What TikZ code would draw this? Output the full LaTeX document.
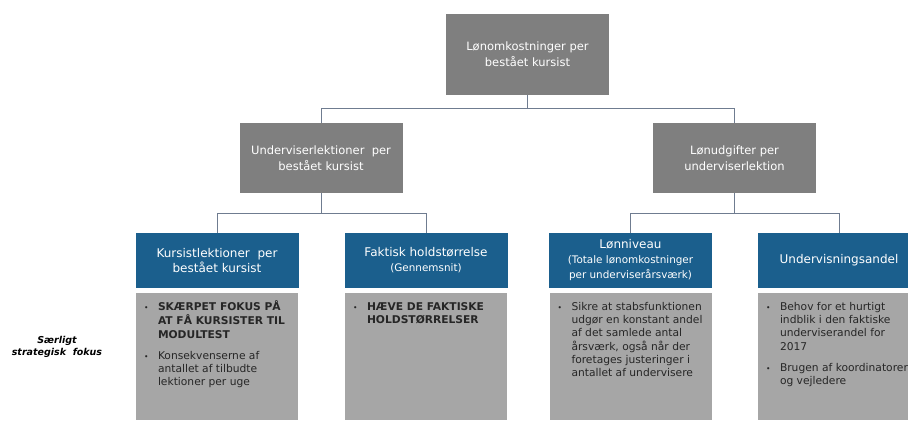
\documentclass[tikz,border=0pt]{standalone}
\usepackage{fontspec}
\setmainfont{DejaVu Sans}
\definecolor{headgray}{HTML}{7F7F7F}
\definecolor{headblue}{HTML}{1B5F8D}
\definecolor{notegray}{HTML}{A6A6A6}
\definecolor{linkgray}{HTML}{6F7C90}
\newcommand{\subsize}{\fontsize{10.4}{14}\selectfont}
\newcommand{\bpoint}[1]{\makebox[16pt][l]{\hspace{2pt}\scalebox{.7}{\textbullet}}\begin{tabular}[t]{@{}l@{}}#1\end{tabular}\par}
\newcommand{\notetext}[1]{\parbox[c][111pt][t]{150pt}{\fontsize{10.7}{13.3}\selectfont\color{black!85} #1}}

\begin{document}
\begin{tikzpicture}[x=1pt,y=-1pt,
    head/.style={fill=headgray,text=white,minimum width=163,align=center,
      font=\fontsize{11.5}{16}\selectfont},
    topic/.style={fill=headblue,text=white,minimum width=163,minimum height=55,
      align=center,font=\fontsize{12}{15}\selectfont},
    note/.style={fill=notegray,minimum width=162,minimum height=127,inner sep=0},
    link/.style={draw=linkgray,line width=0.9pt}]
  \useasboundingbox (0,0) rectangle (908,422);
  \clip (0,0) rectangle (908,422);
  \node[head,minimum height=81] (cost) at (527.5,54.5) {Lønomkostninger per\\bestået kursist};
  \node[head,minimum height=70] (lekt) at (321,158) {Underviserlektioner\ \ per\\bestået kursist};
  \node[head,minimum height=70] (lon) at (734.5,158) {Lønudgifter per\\underviserlektion};
  \node[topic] (kurs) at (217,260.5) {Kursistlektioner\ \ per\\bestået kursist};
  \node[topic] (hold) at (426,260.5) {Faktisk holdstørrelse\\{\subsize (Gennemsnit)}};
  \node[topic] (niv) at (630.5,260.5) {Lønniveau\\{\subsize (Totale lønomkostninger}\\{\subsize per underviserårsværk)}};
  \node[topic] (andel) at (839,260.5) {Undervisningsandel};
  \node[note] (kursnote) at (217,356.5) {\notetext{%
    \bpoint{\textbf{SKÆRPET FOKUS PÅ}\\\textbf{AT FÅ KURSISTER TIL}\\\textbf{MODULTEST}}
    \vspace{6.7pt}
    \bpoint{Konsekvenserne af\\antallet af tilbudte\\lektioner per uge}}};
  \node[note] (holdnote) at (426,356.5) {\notetext{%
    \bpoint{\textbf{HÆVE DE FAKTISKE}\\\textbf{HOLDSTØRRELSER}}}};
  \node[note] (nivnote) at (630.5,356.5) {\notetext{%
    \bpoint{Sikre at stabsfunktionen\\udgør en konstant andel\\af det samlede antal\\årsværk, også når der\\foretages justeringer i\\antallet af undervisere}}};
  \node[note] (andelnote) at (839,356.5) {\notetext{%
    \bpoint{Behov for et hurtigt\\indblik i den faktiske\\underviserandel for\\2017}
    \vspace{6.7pt}
    \bpoint{Brugen af koordinatorer\\og vejledere}}};
  \node[align=center,font=\fontsize{9.5}{11.7}\selectfont\bfseries\itshape] (fokus) at (57,347) {Særligt\\strategisk\ \ fokus};
  \draw[link] (cost.south) -- ++(0,13) -| (lekt.north);
  \draw[link] (cost.south) -- ++(0,13) -| (lon.north);
  \draw[link] (lekt.south) -- ++(0,20) -| (kurs.north);
  \draw[link] (lekt.south) -- ++(0,20) -| (hold.north);
  \draw[link] (lon.south) -- ++(0,20) -| (niv.north);
  \draw[link] (lon.south) -- ++(0,20) -| (andel.north);
\end{tikzpicture}
\end{document}
